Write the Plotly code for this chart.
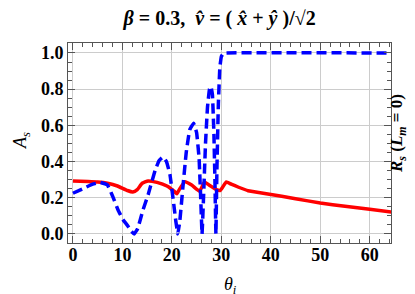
import plotly.graph_objects as go

# Blue dashed curve (A_s)
blue_x = [0, 2, 4, 5.5, 7, 8, 9.1, 10.1, 11.1, 11.8, 12.4, 13.1, 14.1, 15.2, 16.6, 17.4, 18.2, 18.9, 19.6, 20.4, 20.8, 21.2,
          21.6, 22.2, 22.9, 23.6, 24.4, 25.0, 25.5, 25.8, 26.1, 26.4, 26.8, 27.2, 27.6, 27.9, 28.2, 28.5, 28.7, 28.9,
          29.1, 29.4, 29.7, 30.0, 30.4, 31.0, 64.5]
blue_y = [0.225, 0.25, 0.275, 0.285, 0.27, 0.21, 0.134, 0.08, 0.044, 0.015, 0.0, 0.03, 0.127, 0.217, 0.35, 0.405, 0.425, 0.40, 0.33, 0.16, 0.07, 0.0,
          0.07, 0.25, 0.45, 0.575, 0.612, 0.56, 0.42, 0.22, 0.0, 0.2, 0.5, 0.7, 0.8, 0.815, 0.77, 0.55, 0.3, 0.0,
          0.35, 0.72, 0.92, 0.98, 0.997, 1.0, 1.0]

# Red solid curve (R_s, L_m = 0)
red_x = [0, 3, 5, 7, 9, 11, 12.1, 13, 14, 15.2, 17, 19, 20.5, 21, 21.5, 22.6, 24, 25.6, 26.6, 27.5,
         29, 29.8, 31, 32, 33.5, 35.4, 39.4, 45, 50, 55, 60, 64.5]
red_y = [0.293, 0.29, 0.287, 0.28, 0.265, 0.24, 0.232, 0.245, 0.28, 0.293, 0.285, 0.265, 0.235, 0.222, 0.245, 0.288, 0.27, 0.236, 0.287, 0.27,
         0.245, 0.241, 0.287, 0.275, 0.258, 0.239, 0.221, 0.195, 0.171, 0.153, 0.136, 0.12]

x_ticks = [0, 10, 20, 30, 40, 50, 60]
y_ticks = [0.0, 0.2, 0.4, 0.6, 0.8, 1.0]

FONT = "Liberation Serif"

fig = go.Figure()
fig.add_trace(go.Scatter(x=red_x, y=red_y, mode="lines",
                         line=dict(color="#ff0000", width=3.5, shape="spline", smoothing=0.4),
                         showlegend=False))
fig.add_trace(go.Scatter(x=blue_x, y=blue_y, mode="lines",
                         line=dict(color="#0000ff", width=3.5, dash="10px,5px", shape="spline", smoothing=0.25),
                         showlegend=False))

axis_common = dict(
    showline=True, linecolor="#555", linewidth=1, mirror="allticks",
    ticks="inside", ticklen=7, tickcolor="#555", tickwidth=1,
    showgrid=True, gridcolor="#cccccc", gridwidth=1, zeroline=False, automargin=False,
    tickfont=dict(family=FONT, size=18, color="black", weight="bold"),
)

fig.update_xaxes(range=[-1, 64.3], tickvals=x_ticks, ticktext=[str(v) for v in x_ticks],
                 minor=dict(dtick=2, tick0=0, ticklen=4, ticks="inside", tickcolor="#555", showgrid=False),
                 ticklabelstandoff=-5,
                 **axis_common)
fig.update_yaxes(range=[-0.05, 1.055], tickvals=y_ticks, ticktext=[f"{v:.1f}" for v in y_ticks],
                 minor=dict(dtick=0.05, tick0=0, ticklen=4, ticks="inside", tickcolor="#555", showgrid=False),
                 **axis_common)

# Axis titles as annotations
fig.add_annotation(x=(222 - 60) / 323, xref="paper", y=0, yref="paper",
                   text="<i>θ<sub>i</sub></i>", showarrow=False, yanchor="top", yshift=-29,
                   font=dict(family=FONT, size=18, color="black"))
fig.add_annotation(x=0, xref="paper", xanchor="center", xshift=-47, y=0.5, yref="paper", yshift=2,
                   text="<i>A<sub>s</sub></i>", textangle=-90, showarrow=False,
                   font=dict(family=FONT, size=18, color="black"))
fig.add_annotation(x=1.0, xref="paper", xshift=20, y=0.5, yref="paper", yanchor="middle", yshift=9,
                   text="<b><i>R<sub>s</sub></i> (<i>L<sub>m</sub></i> = 0)</b>",
                   textangle=-90, showarrow=False,
                   font=dict(family=FONT, size=17, color="black"))

fig.update_layout(
    width=415, height=294,
    margin=dict(l=60, r=32, t=35, b=59),
    paper_bgcolor="white", plot_bgcolor="white",
    title=dict(text="<b><i>β</i> = 0.3,  <i>v̂</i> = ( <i>x̂</i> + <i>ŷ</i> )/√2</b>",
               x=0.51, xanchor="center", y=0.99, yanchor="top",
               font=dict(family=FONT, size=20, color="black")),
)

fig.write_html("out.html")
